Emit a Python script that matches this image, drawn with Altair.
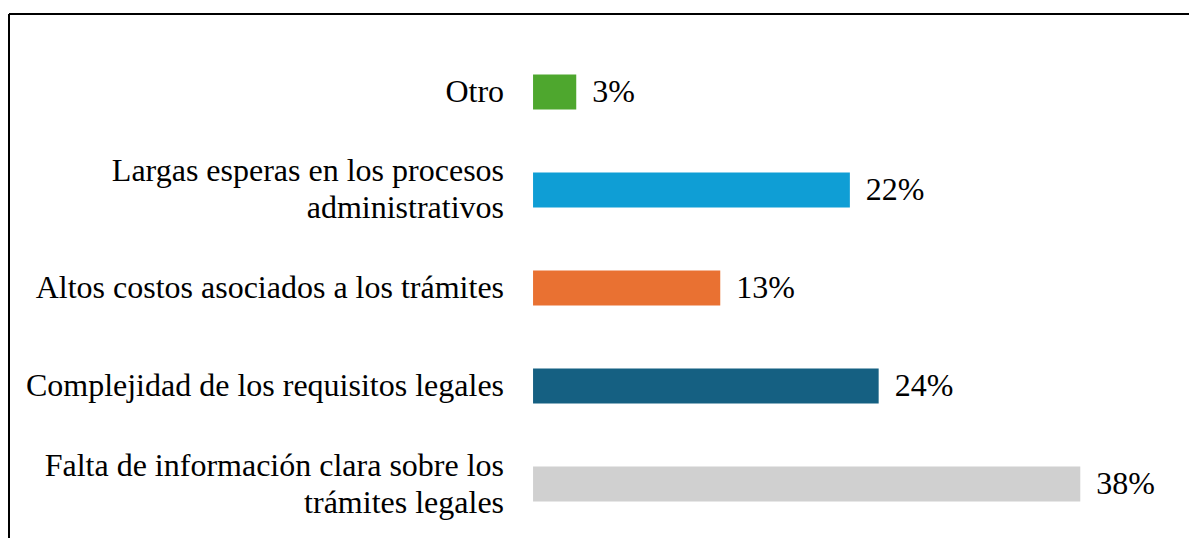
import altair as alt
import pandas as pd

categories = [
    "Otro",
    "Largas esperas en los procesos|administrativos",
    "Altos costos asociados a los trámites",
    "Complejidad de los requisitos legales",
    "Falta de información clara sobre los|trámites legales",
]
values = [3, 22, 13, 24, 38]
colors = ["#4EA72E", "#0F9ED5", "#E97132", "#156082", "#D0D0D0"]

df = pd.DataFrame({"cat": categories, "val": values, "color": colors})

W, H = 1180, 524
FONT = "Liberation Serif"
FS = 32
LH = 37

x_scale = alt.Scale(domain=[-36.39, 45.55], nice=False, zero=False)
y_scale = alt.Scale(domain=categories, range=[60.5, 487.5], paddingInner=0.643, paddingOuter=0)

base = alt.Chart(df).transform_calculate(
    base="0",
    l1="split(datum.cat, '|')[0]",
    l2="length(split(datum.cat, '|')) > 1 ? split(datum.cat, '|')[1] : ''",
    n="length(split(datum.cat, '|'))",
    lab="datum.val + '%'",
)

bars = base.mark_bar().encode(
    x=alt.X("base:Q", scale=x_scale, axis=None),
    x2="val:Q",
    y=alt.Y("cat:N", scale=y_scale, axis=None, sort=categories),
    color=alt.Color("color:N", scale=None),
)

def label_layer(flt, field, dy):
    return base.transform_filter(flt).mark_text(
        align="right", baseline="middle", font=FONT, fontSize=FS, dx=-29, dy=dy, color="black"
    ).encode(
        x=alt.X("base:Q", scale=x_scale),
        y=alt.Y("cat:N", scale=y_scale, sort=categories),
        text=f"{field}:N",
    )

single = label_layer("datum.n == 1", "l1", 0)
first = label_layer("datum.n > 1", "l1", -LH / 2)
second = label_layer("datum.n > 1", "l2", LH / 2)

val_text = base.mark_text(
    align="left", baseline="middle", font=FONT, fontSize=FS, dx=16, color="black"
).encode(
    x=alt.X("val:Q", scale=x_scale),
    y=alt.Y("cat:N", scale=y_scale, sort=categories),
    text="lab:N",
)

frame_df = pd.DataFrame({"a": [0]})
top_rule = alt.Chart(frame_df).mark_rule(color="black", strokeWidth=2).encode(
    x=alt.value(0), x2=alt.value(W), y=alt.value(0)
)
left_rule = alt.Chart(frame_df).mark_rule(color="black", strokeWidth=2).encode(
    x=alt.value(0), y=alt.value(0), y2=alt.value(H)
)

chart = alt.layer(bars, single, first, second, val_text, top_rule, left_rule).properties(
    width=W,
    height=H,
    autosize=alt.AutoSizeParams(type="none"),
    padding={"left": 1, "top": 6, "right": 0, "bottom": 0},
).configure_view(stroke=None).configure(background="white")

chart.save("out.html", embed_options={"renderer": "svg", "actions": False})
